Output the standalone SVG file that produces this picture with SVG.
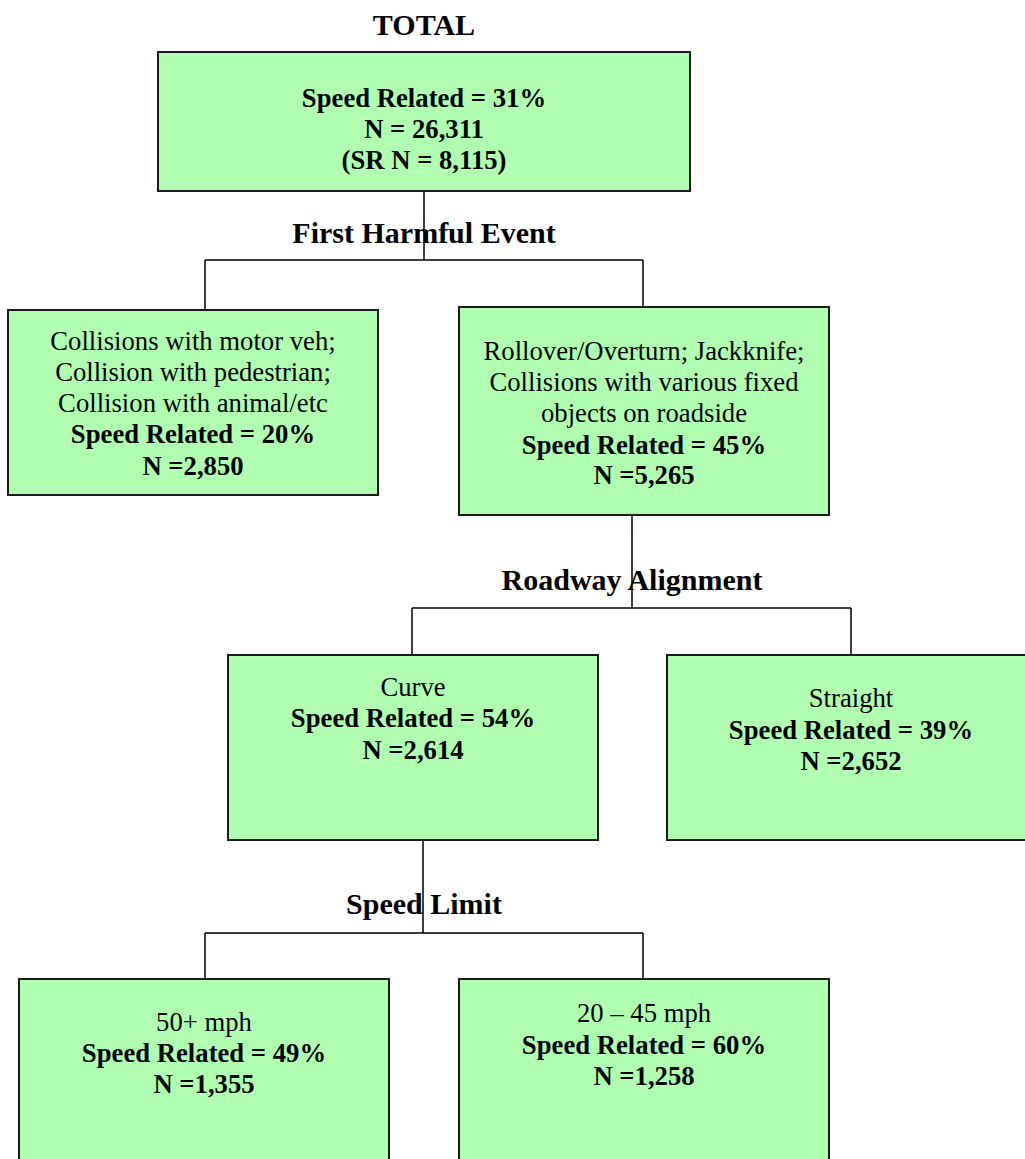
<svg xmlns="http://www.w3.org/2000/svg" width="1025" height="1159" viewBox="0 0 1025 1159">
<style>
.box{fill:#b0ffb0;stroke:#1a1a1a;stroke-width:2}
.t{font-family:"Liberation Serif","Times New Roman",serif;font-size:26.7px;fill:#000;text-anchor:middle}
.b{font-weight:bold}
.lbl{font-family:"Liberation Serif","Times New Roman",serif;font-size:30px;font-weight:bold;fill:#000;text-anchor:middle}
.c{fill:none;stroke:#000;stroke-width:1.5}
</style>
<rect width="1025" height="1159" fill="#fff"/>
<g id="labels">
<text class="lbl" x="424" y="35">TOTAL</text>
<text class="lbl" x="424" y="243">First Harmful Event</text>
<text class="lbl" x="632" y="590">Roadway Alignment</text>
<text class="lbl" x="424" y="914">Speed Limit</text>
</g>
<g id="connectors">
<path class="c" d="M424,191 V260 M205,260 H643 M205,260 V310 M643,260 V307"/>
<path class="c" d="M632,515 V608 M412,608 H851 M412,608 V655 M851,608 V655"/>
<path class="c" d="M423,840 V933 M205,933 H643 M205,933 V979 M643,933 V979"/>
</g>
<g id="total">
<rect class="box" x="158" y="52" width="532" height="139"/>
<text class="t b" x="424" y="107">Speed Related = 31%</text>
<text class="t b" x="424" y="138">N = 26,311</text>
<text class="t b" x="424" y="169">(SR N = 8,115)</text>
</g>
<g id="collisions">
<rect class="box" x="8" y="310" width="370" height="185"/>
<text class="t" x="193" y="350">Collisions with motor veh;</text>
<text class="t" x="193" y="381">Collision with pedestrian;</text>
<text class="t" x="193" y="412">Collision with animal/etc</text>
<text class="t b" x="193" y="443">Speed Related = 20%</text>
<text class="t b" x="193" y="475">N =2,850</text>
</g>
<g id="rollover">
<rect class="box" x="459" y="307" width="370" height="208"/>
<text class="t" x="644" y="360">Rollover/Overturn; Jackknife;</text>
<text class="t" x="644" y="391">Collisions with various fixed</text>
<text class="t" x="644" y="422">objects on roadside</text>
<text class="t b" x="644" y="454">Speed Related = 45%</text>
<text class="t b" x="644" y="484">N =5,265</text>
</g>
<g id="curve">
<rect class="box" x="228" y="655" width="370" height="185"/>
<text class="t" x="413" y="696">Curve</text>
<text class="t b" x="413" y="727">Speed Related = 54%</text>
<text class="t b" x="413" y="759">N =2,614</text>
</g>
<g id="straight">
<rect class="box" x="667" y="655" width="375" height="185"/>
<text class="t" x="851" y="707">Straight</text>
<text class="t b" x="851" y="739">Speed Related = 39%</text>
<text class="t b" x="851" y="770">N =2,652</text>
</g>
<g id="mph50">
<rect class="box" x="19" y="979" width="370" height="200"/>
<text class="t" x="204" y="1031">50+ mph</text>
<text class="t b" x="204" y="1062">Speed Related = 49%</text>
<text class="t b" x="204" y="1093">N =1,355</text>
</g>
<g id="mph20">
<rect class="box" x="459" y="979" width="370" height="200"/>
<text class="t" x="644" y="1022">20 – 45 mph</text>
<text class="t b" x="644" y="1054">Speed Related = 60%</text>
<text class="t b" x="644" y="1085">N =1,258</text>
</g>
</svg>
